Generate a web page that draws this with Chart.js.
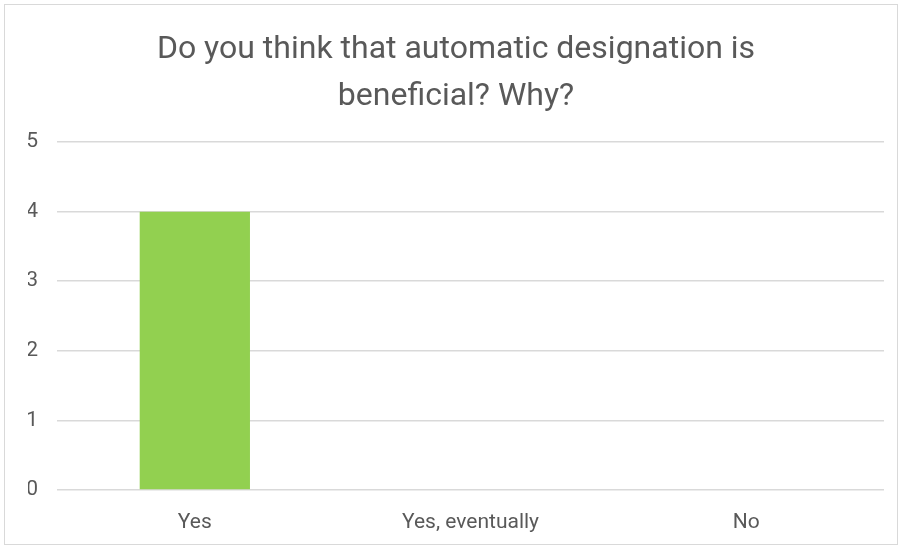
<!DOCTYPE html>
<html>
<head>
<meta charset="utf-8">
<script src="https://cdn.jsdelivr.net/npm/chart.js@4.4.1/dist/chart.umd.min.js"></script>
<style>
  html, body { margin: 0; padding: 0; background: #fff; }
  .chart-container { position: relative; width: 902px; height: 548px; }
  .frame {
    position: absolute; left: 4px; top: 4px; width: 894px; height: 541px;
    border: 1px solid #d9d9d9; box-sizing: border-box; pointer-events: none;
  }
</style>
</head>
<body>
<div class="chart-container">
  <canvas id="chart" width="902" height="548"></canvas>
  <div class="frame"></div>
</div>
<script>
const categories = ["Yes", "Yes, eventually", "No"];
const answers = [4, 0, 0];
const yTicks = [0, 1, 2, 3, 4, 5];
const titleLines = ["Do you think that automatic designation is", "beneficial? Why?"];

const textColor = "#595959";
const gridColor = "#d9d9d9";
const fontFamily = "Roboto, 'Liberation Sans', sans-serif";

const ctx = document.getElementById("chart").getContext("2d");

const myChart = new Chart(ctx, {
    type: "bar",
    data: {
        labels: categories,
        datasets: [
            {
                data: answers,
                label: "Answers",
                backgroundColor: "#92d050",
                borderWidth: 0,
                categoryPercentage: 1,
                barPercentage: 0.4,
            },
        ],
    },
    options: {
        responsive: false,
        animation: false,
        layout: {
            // left padding nudges the title to the right like the original
            padding: { left: 28, right: 18, top: 0, bottom: 0 },
        },
        plugins: {
            legend: { display: false },
            tooltip: { enabled: false },
            title: {
                display: true,
                text: titleLines,
                color: textColor,
                font: { family: fontFamily, size: 32, weight: "normal", lineHeight: 1.47 },
                padding: { top: 26, bottom: 22 },
            },
        },
        scales: {
            x: {
                grid: { display: false },
                border: { display: false },
                ticks: {
                    color: textColor,
                    font: { family: fontFamily, size: 21 },
                    padding: 12,
                },
                afterFit: (scale) => { scale.height = 58; },
            },
            y: {
                min: 0,
                max: 5,
                afterBuildTicks: (scale) => {
                    scale.ticks = yTicks.map((v) => ({ value: v }));
                },
                grid: { color: gridColor, lineWidth: 1.5, drawTicks: false },
                border: { display: false },
                ticks: {
                    color: textColor,
                    font: { family: fontFamily, size: 21 },
                    padding: 19,
                },
                afterFit: (scale) => { scale.width = 29; },
            },
        },
    },
});
</script>
</body>
</html>
